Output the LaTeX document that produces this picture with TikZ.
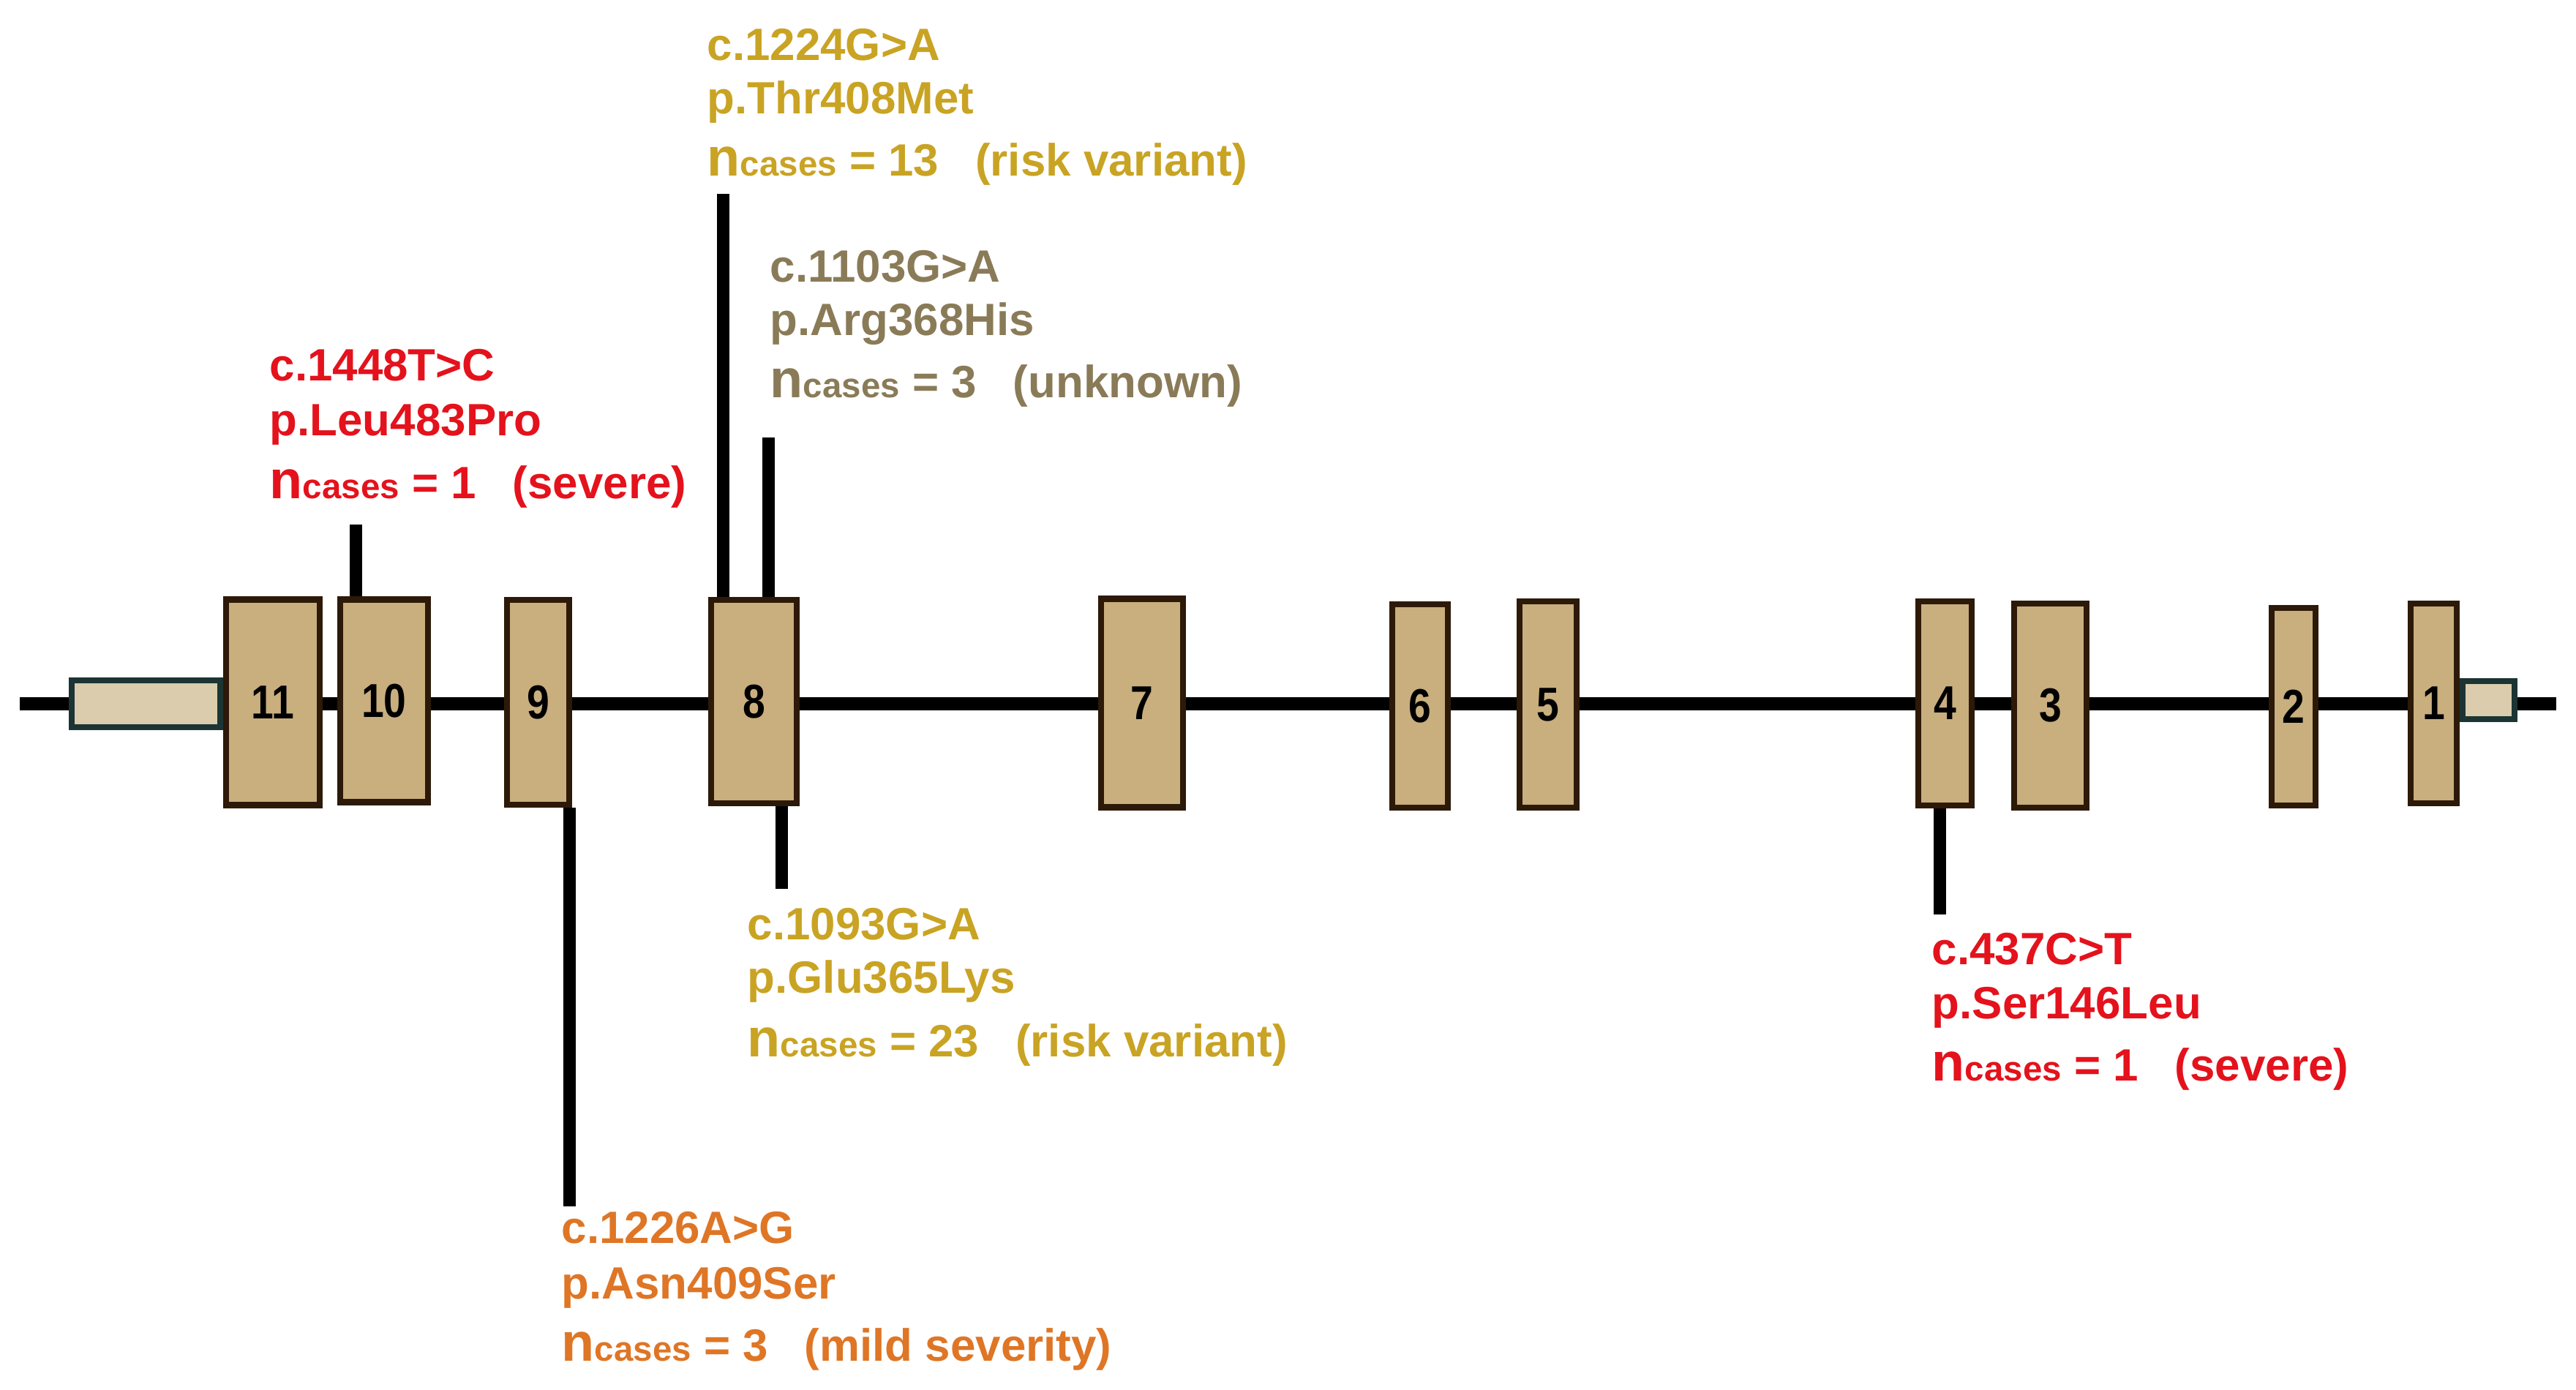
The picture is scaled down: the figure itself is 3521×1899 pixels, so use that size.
\documentclass[tikz,border=0pt]{standalone}
\usepackage{fontspec}
\setmainfont{Liberation Sans}
\newfontfamily\exonnumfont{Liberation Sans}[FakeStretch=0.85]
\definecolor{exonfill}{RGB}{201,174,126}
\definecolor{exonborder}{RGB}{45,25,8}
\definecolor{utrfill}{RGB}{218,204,172}
\definecolor{utrborder}{RGB}{28,52,52}
\definecolor{cred}{RGB}{228,18,28}
\definecolor{cgold}{RGB}{201,163,35}
\definecolor{cgrey}{RGB}{138,123,88}
\definecolor{corange}{RGB}{222,118,38}
\newcommand\ncasesline[2]{{\fontsize{21}{21}\selectfont n}{\fontsize{13.5}{13.5}\selectfont cases} = #1\hspace{0.5cm}(#2)}
\tikzset{
  exon/.style={draw=exonborder, fill=exonfill, line width=0.085cm, inner sep=0pt,
    font=\exonnumfont\fontsize{18.5}{18.5}\selectfont\bfseries},
  utr/.style={draw=utrborder, fill=utrfill, line width=0.08cm, inner sep=0pt},
  backbone/.style={line width=0.18cm, black},
  varline/.style={line width=0.17cm, black},
  lab/.style={anchor=base west, inner sep=0pt, font=\fontsize{17.6}{20}\selectfont\bfseries}
}
\begin{document}
\begin{tikzpicture}[x=0.01cm,y=-0.01cm]
\useasboundingbox (0,0) rectangle (3521,1899);
% backbone
\coordinate (gl) at (27,962);
\coordinate (gr) at (3494,962);
\draw[backbone] (gl) -- (gr);
% UTRs
\node[utr, minimum width=2.03cm, minimum height=0.64cm] (utrL) at (199.5,962) {};
\node[utr, minimum width=0.71cm, minimum height=0.52cm] (utrR) at (3401,957) {};
% exons
\node[exon, minimum width=1.28cm, minimum height=2.81cm] (e11) at (373,960) {11};
\node[exon, minimum width=1.20cm, minimum height=2.77cm] (e10) at (525,958) {10};
\node[exon, minimum width=0.85cm, minimum height=2.80cm] (e9) at (735.5,960) {9};
\node[exon, minimum width=1.17cm, minimum height=2.78cm] (e8) at (1030.5,959) {8};
\node[exon, minimum width=1.12cm, minimum height=2.85cm] (e7) at (1561,961) {7};
\node[exon, minimum width=0.76cm, minimum height=2.78cm] (e6) at (1941,965) {6};
\node[exon, minimum width=0.78cm, minimum height=2.82cm] (e5) at (2116,963) {5};
\node[exon, minimum width=0.73cm, minimum height=2.79cm] (e4) at (2658.5,961.5) {4};
\node[exon, minimum width=0.99cm, minimum height=2.79cm] (e3) at (2802.5,964.5) {3};
\node[exon, minimum width=0.60cm, minimum height=2.70cm] (e2) at (3135,966) {2};
\node[exon, minimum width=0.63cm, minimum height=2.73cm] (e1) at (3326.5,961.5) {1};
% variant lines
\coordinate (v1448) at (486,717);
\coordinate (v1224) at (988,265);
\coordinate (v1103) at (1050,598);
\coordinate (v1093) at (1068,1215);
\coordinate (v1226) at (778,1649);
\coordinate (v437) at (2651,1250);
\draw[varline] (v1448) -- (v1448 |- e10.north);
\draw[varline] (v1224) -- (v1224 |- e8.north);
\draw[varline] (v1103) -- (v1103 |- e8.north);
\draw[varline] (v1093) -- (v1093 |- e8.south);
\draw[varline] (v1226) -- (v1226 |- e9.south);
\draw[varline] (v437) -- (v437 |- e4.south);
% labels c.1448T>C
\node[lab, text=cred] (a1) at (368,520) {c.1448T>C};
\node[lab, text=cred] (a2) at (368,595) {p.Leu483Pro};
\node[lab, text=cred] (a3) at (368,681) {\ncasesline{1}{severe}};
% c.1224G>A
\node[lab, text=cgold] (b1) at (966,82) {c.1224G>A};
\node[lab, text=cgold] (b2) at (966,155) {p.Thr408Met};
\node[lab, text=cgold] (b3) at (966,240) {\ncasesline{13}{risk variant}};
% c.1103G>A
\node[lab, text=cgrey] (c1) at (1052,385) {c.1103G>A};
\node[lab, text=cgrey] (c2) at (1052,458) {p.Arg368His};
\node[lab, text=cgrey] (c3) at (1052,543) {\ncasesline{3}{unknown}};
% c.1093G>A
\node[lab, text=cgold] (d1) at (1021,1284) {c.1093G>A};
\node[lab, text=cgold] (d2) at (1021,1357) {p.Glu365Lys};
\node[lab, text=cgold] (d3) at (1021,1444) {\ncasesline{23}{risk variant}};
% c.1226A>G
\node[lab, text=corange] (f1) at (767,1699) {c.1226A>G};
\node[lab, text=corange] (f2) at (767,1775) {p.Asn409Ser};
\node[lab, text=corange] (f3) at (767,1860) {\ncasesline{3}{mild severity}};
% c.437C>T
\node[lab, text=cred] (g1) at (2640,1318) {c.437C>T};
\node[lab, text=cred] (g2) at (2640,1392) {p.Ser146Leu};
\node[lab, text=cred] (g3) at (2640,1477) {\ncasesline{1}{severe}};
\end{tikzpicture}
\end{document}
